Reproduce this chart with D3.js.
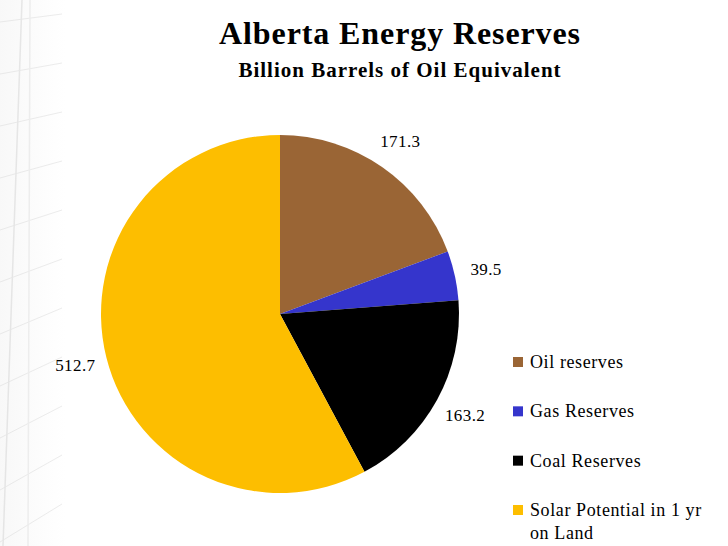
<!DOCTYPE html>
<html>
<head>
<meta charset="utf-8">
<script src="https://cdn.jsdelivr.net/npm/d3@7"></script>
<style>
html,body{margin:0;padding:0;background:#fff;}
svg{display:block;}
text{font-family:"Liberation Serif","DejaVu Serif",serif;}
</style>
</head>
<body>
<svg id="chart" width="728" height="546"></svg>
<script>
const categories = ["Oil reserves", "Gas Reserves", "Coal Reserves", "Solar Potential in 1 yr on Land"];
const values = [171.3, 39.5, 163.2, 512.7];
const labels = ["171.3", "39.5", "163.2", "512.7"];
const colors = ["#9A6535", "#3535CC", "#000000", "#FDBE00"];
const legendLines = [["Oil reserves"], ["Gas Reserves"], ["Coal Reserves"], ["Solar Potential in 1 yr", "on Land"]];

const svg = d3.select("#chart");
const W = 728, H = 546;

// faint slide background grid on the left
const grad = svg.append("defs").append("linearGradient").attr("id","fade").attr("x1","0").attr("x2","1");
grad.append("stop").attr("offset","0").attr("stop-color","#e8e8e8");
grad.append("stop").attr("offset","1").attr("stop-color","#ffffff");
svg.append("rect").attr("x",0).attr("y",0).attr("width",65).attr("height",H).attr("fill","url(#fade)").attr("opacity",0.3);
const bg = svg.append("g").attr("opacity", 0.45);
d3.range(0, 11).forEach(i => {
  bg.append("line").attr("x1",0).attr("x2",62).attr("y1",22+i*52).attr("y2",14+i*49)
    .attr("stroke","#d6d6d6").attr("stroke-width",1);
});
bg.append("line").attr("x1",22).attr("x2",3).attr("y1",0).attr("y2",H).attr("stroke","#cfcfcf").attr("stroke-width",1.5);
bg.append("line").attr("x1",30).attr("x2",28).attr("y1",0).attr("y2",H).attr("stroke","#dddddd").attr("stroke-width",1.5);

// titles
svg.append("text").attr("x", 400).attr("y", 44).attr("text-anchor","middle")
  .attr("font-size", 32).attr("font-weight","bold").attr("letter-spacing", 0.9).attr("fill","#000").text("Alberta Energy Reserves");
svg.append("text").attr("x", 400).attr("y", 77).attr("text-anchor","middle")
  .attr("font-size", 21).attr("font-weight","bold").attr("letter-spacing", 1).attr("fill","#000").text("Billion Barrels of Oil Equivalent");

// pie
const cx = 280, cy = 314, r = 179;
const pie = d3.pie().sort(null).value(d => d)(values);
const arc = d3.arc().innerRadius(0).outerRadius(r);
const g = svg.append("g").attr("transform", `translate(${cx},${cy})`);
g.selectAll("path").data(pie).enter().append("path")
  .attr("d", arc).attr("fill", (d,i) => colors[i]);

const labelArc = d3.arc().innerRadius(r + 32).outerRadius(r + 32);
g.selectAll("text.lbl").data(pie).enter().append("text")
  .attr("class","lbl")
  .attr("transform", d => { const c = labelArc.centroid(d); return `translate(${c[0]},${c[1]})`; })
  .attr("text-anchor","middle").attr("dy","0.35em")
  .attr("font-size", 17).attr("letter-spacing", 0.4).attr("fill","#000")
  .text((d,i) => labels[i]);

// legend
const lg = svg.append("g").attr("transform","translate(513,0)");
const ly = d3.scalePoint().domain(categories).range([362, 510]);
categories.forEach((c,i) => {
  const y = ly(c);
  lg.append("rect").attr("x",0).attr("y",y-5).attr("width",10).attr("height",10).attr("fill",colors[i]);
  legendLines[i].forEach((t,j) => {
    lg.append("text").attr("x",17).attr("y",y + 6 + j*23).attr("font-size",18).attr("letter-spacing",0.6).attr("fill","#000").text(t);
  });
});
</script>
</body>
</html>
